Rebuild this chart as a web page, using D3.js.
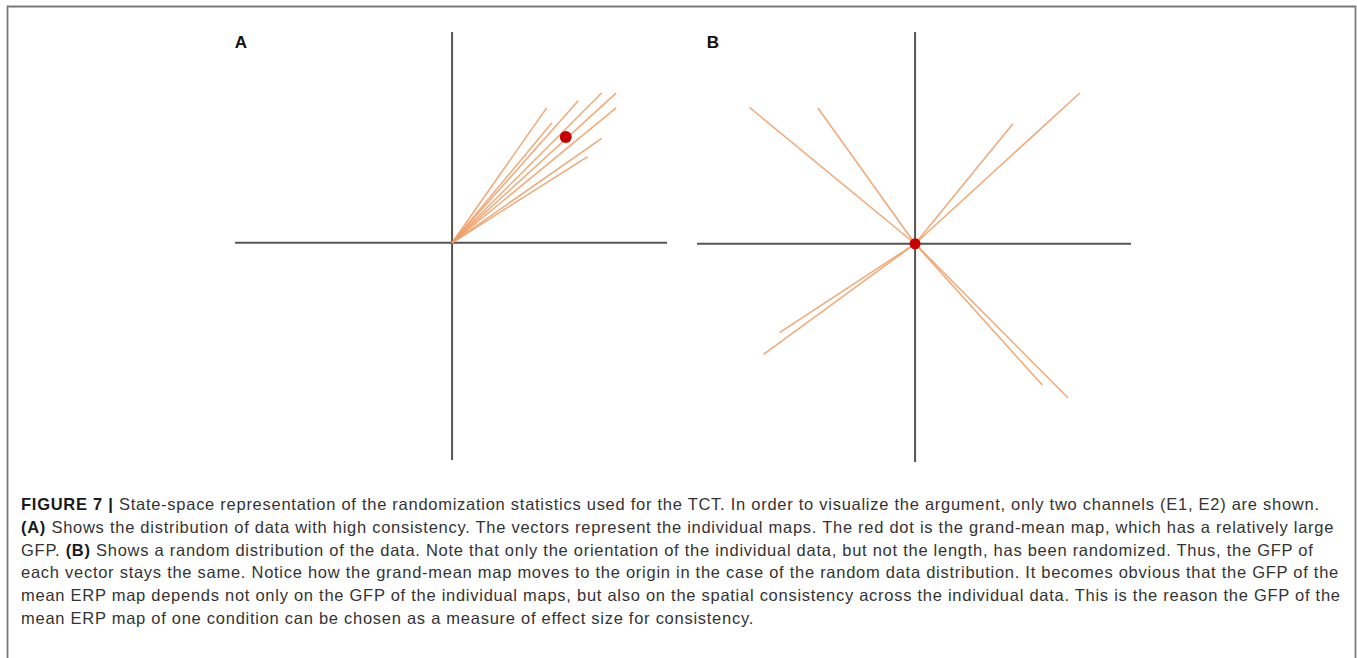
<!DOCTYPE html>
<html>
<head>
<meta charset="utf-8">
<script src="https://cdn.jsdelivr.net/npm/d3@7"></script>
<style>
    html, body { margin: 0; padding: 0; background: #fff; }
    svg { display: block; }
</style>
</head>
<body>
<div id="figure"></div>
<script>
(function () {
    "use strict";

    // E1 / E2 components of the individual maps, panel A (high consistency)
    var vectorsA_e1 = [0.440, 0.464, 0.587, 0.696, 0.763, 0.763, 0.696, 0.631];
    var vectorsA_e2 = [0.627, 0.557, 0.660, 0.696, 0.696, 0.627, 0.485, 0.401];
    var meanA = [0.529, 0.492];

    // panel B (randomized orientation, same lengths)
    var vectorsB_e1 = [-0.767, -0.450, 0.453, 0.763, -0.628, -0.702, 0.589, 0.708];
    var vectorsB_e2 = [0.631, 0.628, 0.555, 0.698, -0.411, -0.512, -0.654, -0.713];
    var meanB = [0, 0];

    var panelLabels = ["A", "B"];
    var axisE1 = [-1.01, 1.0];
    var axisE2 = [-1.01, 0.98];

    // caption lines, [text, bold] pieces
    var captionLines = [
        [["FIGURE 7 | ", true], ["State-space representation of the randomization statistics used for the TCT. In order to visualize the argument, only two channels (E1, E2) are shown.", false]],
        [["(A)", true], [" Shows the distribution of data with high consistency. The vectors represent the individual maps. The red dot is the grand-mean map, which has a relatively large", false]],
        [["GFP. ", false], ["(B)", true], [" Shows a random distribution of the data. Note that only the orientation of the individual data, but not the length, has been randomized. Thus, the GFP of", false]],
        [["each vector stays the same. Notice how the grand-mean map moves to the origin in the case of the random data distribution. It becomes obvious that the GFP of the", false]],
        [["mean ERP map depends not only on the GFP of the individual maps, but also on the spatial consistency across the individual data. This is the reason the GFP of the", false]],
        [["mean ERP map of one condition can be chosen as a measure of effect size for consistency.", false]]
    ];

    var width = 1357, height = 658;

    var svg = d3.select("#figure")
        .append("svg")
        .attr("width", width)
        .attr("height", height);

    // frame (open at the bottom)
    svg.append("path")
        .attr("d", "M7.5," + height + "V6.5H1355.5V" + height)
        .attr("fill", "none")
        .attr("stroke", "#7a7a7a")
        .attr("stroke-width", 1.8);

    var panels = [
        { label: panelLabels[0], e1: vectorsA_e1, e2: vectorsA_e2, mean: meanA, r: 6,
          left: 235, top: 32, w: 432, h: 428, labelX: 241, labelY: 48 },
        { label: panelLabels[1], e1: vectorsB_e1, e2: vectorsB_e2, mean: meanB, r: 5.5,
          left: 697, top: 32, w: 434, h: 430, labelX: 713, labelY: 48 }
    ];

    panels.forEach(function (p) {
        var x = d3.scaleLinear().domain(axisE1).range([p.left, p.left + p.w]);
        var y = d3.scaleLinear().domain(axisE2).range([p.top + p.h, p.top]);
        var g = svg.append("g");

        // E1 and E2 axes
        g.append("line")
            .attr("x1", x(axisE1[0])).attr("x2", x(axisE1[1]))
            .attr("y1", y(0)).attr("y2", y(0))
            .attr("stroke", "#555").attr("stroke-width", 2);
        g.append("line")
            .attr("x1", x(0)).attr("x2", x(0))
            .attr("y1", y(axisE2[0])).attr("y2", y(axisE2[1]))
            .attr("stroke", "#555").attr("stroke-width", 2);

        var data = p.e1.map(function (d, i) { return [[0, 0], [d, p.e2[i]]]; });
        var line = d3.line()
            .x(function (d) { return x(d[0]); })
            .y(function (d) { return y(d[1]); });

        g.selectAll("path.vec")
            .data(data)
            .enter()
            .append("path")
            .attr("class", "vec")
            .attr("d", line)
            .attr("fill", "none")
            .attr("stroke", "#ef9f66")
            .attr("stroke-opacity", 0.9)
            .attr("stroke-width", 1.5);

        g.append("circle")
            .attr("cx", x(p.mean[0]))
            .attr("cy", y(p.mean[1]))
            .attr("r", p.r)
            .attr("fill", "#c80000");

        g.append("text")
            .attr("x", p.labelX)
            .attr("y", p.labelY)
            .attr("text-anchor", "middle")
            .style("font-family", "'Liberation Sans', Arial, sans-serif")
            .style("font-weight", "bold")
            .style("font-size", "17px")
            .attr("fill", "#111")
            .text(p.label);
    });

    // caption
    var caption = svg.append("g")
        .style("font-family", "'Liberation Sans', Arial, sans-serif")
        .style("font-size", "16.5px")
        .attr("fill", "#333");

    var texts = captionLines.map(function (parts, i) {
        var t = caption.append("text")
            .attr("x", 21)
            .attr("y", 510 + i * 22.8);
        parts.forEach(function (p) {
            t.append("tspan")
                .style("font-weight", p[1] ? "bold" : "normal")
                .attr("fill", p[1] ? "#1a1a1a" : "#333")
                .text(p[0]);
        });
        return t;
    });

    // one common letter spacing, fitted so the 4th line fills the box width
    var ref = texts[3].node();
    var nChars = ref.textContent.length;
    var spacing = (1318 - ref.getComputedTextLength()) / nChars;
    caption.style("letter-spacing", spacing + "px");
})();
</script>
</body>
</html>
